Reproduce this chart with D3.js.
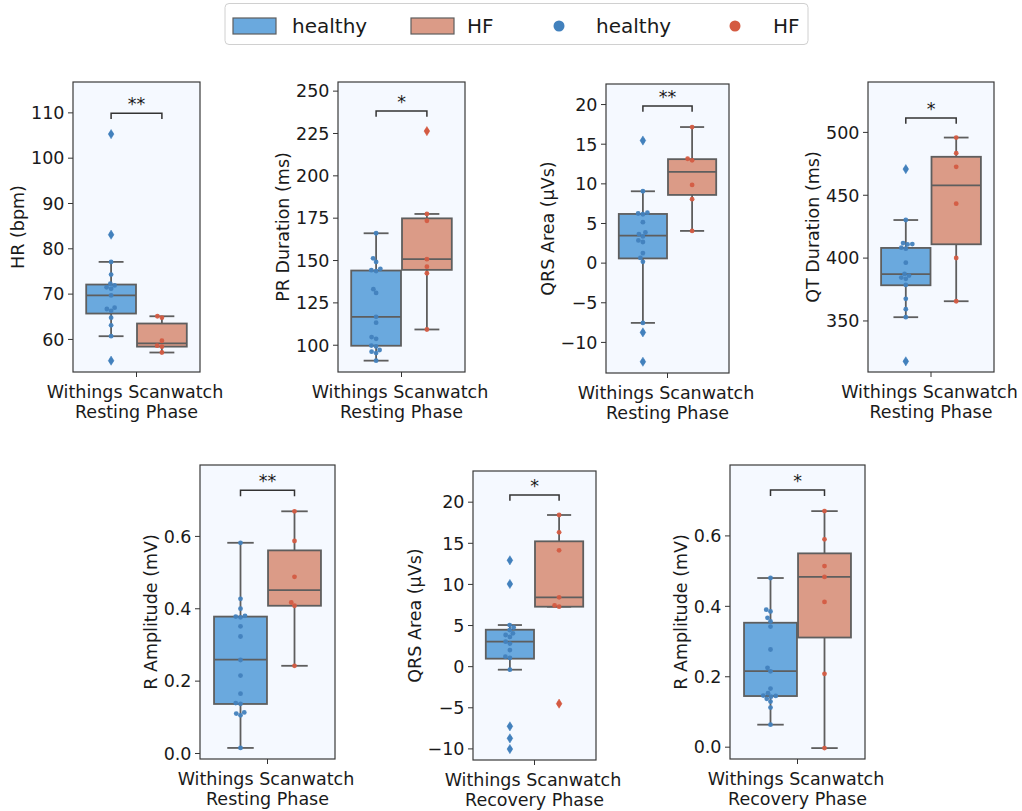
<!DOCTYPE html>
<html>
<head>
<meta charset="utf-8">
<script src="https://cdn.jsdelivr.net/npm/d3@7"></script>
<style>
  body { margin: 0; background: #fff; }
  text { font-family: "DejaVu Sans", sans-serif; fill: #1a1a1a; }
</style>
</head>
<body>
<svg id="fig" width="1022" height="811"></svg>
<script>
// ---------- data ----------
const groups = ["healthy", "HF"];
const deviceLabel = "Withings Scanwatch";

// box stats are [lower whisker, Q1, median, Q3, upper whisker]
const hrHealthy = [105.2, 83.0, 77.0, 74.2, 72.2, 71.8, 71.4, 71.1, 69.6, 66.9, 66.6, 66.2, 64.7, 63.0, 60.6, 55.2];
const hrHF = [65.0, 64.7, 59.6, 58.5, 58.3, 57.0];
const hrBoxHealthy = [60.6, 65.6, 69.6, 72.0, 77.0];
const hrBoxHF = [57.0, 58.3, 59.0, 63.4, 65.0];
const hrTicks = [60, 70, 80, 90, 100, 110];
const hrLimits = [52.7, 116.7];

const prHealthy = [165.8, 151.0, 148.9, 144.8, 144.0, 143.5, 132.8, 130.6, 116.5, 113.0, 104.5, 103.5, 99.5, 99.0, 96.9, 95.9, 95.1, 90.6];
const prHF = [226.1, 177.2, 173.2, 150.5, 146.1, 142.2, 109.0];
const prBoxHealthy = [90.6, 99.4, 116.5, 143.8, 165.8];
const prBoxHF = [109.0, 144.2, 150.5, 174.6, 177.2];
const prTicks = [100, 125, 150, 175, 200, 225, 250];
const prLimits = [83.9, 255.1];

const qrsRestHealthy = [15.4, 9.0, 6.3, 6.2, 6.1, 5.1, 3.8, 3.6, 3.3, 2.8, 2.6, 1.2, 0.6, 0.1, -7.6, -8.8, -12.5];
const qrsRestHF = [17.1, 13.1, 12.9, 9.8, 8.0, 4.0];
const qrsRestBoxHealthy = [-7.6, 0.53, 3.4, 6.14, 9.0];
const qrsRestBoxHF = [4.0, 8.54, 11.45, 13.05, 17.1];
const qrsTicks = [-10, -5, 0, 5, 10, 15, 20];
const qrsRestLimits = [-13.92, 22.53];

const qtHealthy = [470.4, 429.9, 411.6, 410.8, 410.5, 407.9, 407.1, 396.0, 387.0, 385.7, 384.1, 383.1, 378.3, 367.2, 359.0, 352.6, 317.5];
const qtHF = [495.5, 483.1, 472.2, 442.9, 399.7, 365.3];
const qtBoxHealthy = [352.6, 378.0, 386.8, 407.7, 429.9];
const qtBoxHF = [365.3, 410.6, 457.4, 480.2, 495.5];
const qtTicks = [350, 400, 450, 500];
const qtLimits = [309.0, 539.7];

const rRestHealthy = [0.581, 0.426, 0.399, 0.379, 0.377, 0.375, 0.350, 0.322, 0.257, 0.214, 0.164, 0.138, 0.136, 0.112, 0.109, 0.104, 0.014];
const rRestHF = [0.668, 0.586, 0.487, 0.416, 0.407, 0.241];
const rRestBoxHealthy = [0.014, 0.1355, 0.258, 0.377, 0.581];
const rRestBoxHF = [0.241, 0.407, 0.450, 0.560, 0.668];
const rTicks = [0.0, 0.2, 0.4, 0.6];
const rRestLimits = [-0.0166, 0.796];

const qrsRecHealthy = [12.87, 9.99, 5.0, 4.7, 4.39, 3.99, 3.79, 3.55, 2.98, 2.75, 1.95, 1.15, 1.0, -0.43, -7.32, -8.78, -10.08];
const qrsRecHF = [18.38, 16.27, 14.08, 8.37, 7.39, 7.23, -4.56];
const qrsRecBoxHealthy = [-0.43, 0.91, 2.98, 4.43, 5.0];
const qrsRecBoxHF = [7.23, 7.23, 8.37, 15.18, 18.38];
const qrsRecLimits = [-11.41, 23.73];

const rRecHealthy = [0.479, 0.389, 0.384, 0.366, 0.356, 0.341, 0.276, 0.224, 0.214, 0.165, 0.152, 0.145, 0.144, 0.142, 0.136, 0.128, 0.111, 0.0625];
const rRecHF = [0.669, 0.589, 0.513, 0.482, 0.411, 0.207, -0.004];
const rRecBoxHealthy = [0.0625, 0.1438, 0.2148, 0.352, 0.479];
const rRecBoxHF = [-0.004, 0.310, 0.482, 0.549, 0.669];
const rRecLimits = [-0.035, 0.800];

// significance brackets: level (data units) and star text
const bracketLevels = [109.8, 238.0, 19.75, 511.1, 0.726, 20.81, 0.729];
const bracketStars = ["**", "*", "**", "*", "**", "*", "*"];

const panels = [
  { ylabel: "HR (bpm)", phase: "Resting Phase", healthy: hrHealthy, hf: hrHF, boxH: hrBoxHealthy, boxF: hrBoxHF, ticks: hrTicks, limits: hrLimits, fmt: "d" },
  { ylabel: "PR Duration (ms)", phase: "Resting Phase", healthy: prHealthy, hf: prHF, boxH: prBoxHealthy, boxF: prBoxHF, ticks: prTicks, limits: prLimits, fmt: "d" },
  { ylabel: "QRS Area (\u00b5Vs)", phase: "Resting Phase", healthy: qrsRestHealthy, hf: qrsRestHF, boxH: qrsRestBoxHealthy, boxF: qrsRestBoxHF, ticks: qrsTicks, limits: qrsRestLimits, fmt: "d" },
  { ylabel: "QT Duration (ms)", phase: "Resting Phase", healthy: qtHealthy, hf: qtHF, boxH: qtBoxHealthy, boxF: qtBoxHF, ticks: qtTicks, limits: qtLimits, fmt: "d" },
  { ylabel: "R Amplitude (mV)", phase: "Resting Phase", healthy: rRestHealthy, hf: rRestHF, boxH: rRestBoxHealthy, boxF: rRestBoxHF, ticks: rTicks, limits: rRestLimits, fmt: ".1f" },
  { ylabel: "QRS Area (\u00b5Vs)", phase: "Recovery Phase", healthy: qrsRecHealthy, hf: qrsRecHF, boxH: qrsRecBoxHealthy, boxF: qrsRecBoxHF, ticks: qrsTicks, limits: qrsRecLimits, fmt: "d" },
  { ylabel: "R Amplitude (mV)", phase: "Recovery Phase", healthy: rRecHealthy, hf: rRecHF, boxH: rRecBoxHealthy, boxF: rRecBoxHF, ticks: rTicks, limits: rRecLimits, fmt: ".1f" }
];

// ---------- layout & style ----------
const frames = [
  [73, 82, 127, 290], [338, 82, 127, 290], [606, 84, 123, 289], [868, 82, 126, 290],
  [200, 465, 135, 294], [473, 471, 123, 289], [730, 465, 135, 294]
];
const boxFill = { healthy: "#6aa9de", HF: "#db9b87" };
const dotFill = { healthy: "#4281bd", HF: "#d45b42" };
const lineGray = "#5e5e5e";
const axesBg = "#f5f9ff";
const fontSize = 17.5;
const dotR = 2.4;
const swarmGap = 4.6;

const svg = d3.select("#fig");
svg.append("rect").attr("width", 1022).attr("height", 811).attr("fill", "#fff");

// simple deterministic beeswarm: nearest free horizontal slot to the centre line
function swarm(values, cx, y) {
  const pts = values.map(v => ({ v, y: y(v) })).sort((a, b) => a.v - b.v);
  const placed = [];
  pts.forEach(p => {
    let off = 0;
    for (let k = 0; k < 400; k++) {
      const cand = k === 0 ? 0 : (k % 2 === 1 ? -1 : 1) * Math.ceil(k / 2) * 0.25;
      const ok = placed.every(q => Math.hypot(q.x - (cx + cand), q.y - p.y) >= swarmGap);
      if (ok) { off = cand; break; }
    }
    p.x = cx + off;
    placed.push(p);
  });
  return placed;
}

panels.forEach((p, i) => {
  const [fx, fy, fw, fh] = frames[i];
  const g = svg.append("g");
  const x = d3.scaleLinear().domain([-0.5, 0.5]).range([fx, fx + fw]);
  const y = d3.scaleLinear().domain(p.limits).range([fy + fh, fy]);
  const hue = d3.scaleBand().domain(groups).range([-0.4, 0.4]);

  g.append("rect").attr("x", fx).attr("y", fy).attr("width", fw).attr("height", fh).attr("fill", axesBg);

  // y axis
  const fmt = d3.format(p.fmt);
  const yAxis = d3.axisLeft(y).tickValues(p.ticks).tickFormat(fmt).tickSize(5).tickPadding(3.5);
  const ya = g.append("g").attr("transform", `translate(${fx},0)`).call(yAxis);
  ya.select(".domain").remove();
  ya.selectAll(".tick line").attr("stroke", "#333").attr("stroke-width", 1);
  ya.selectAll(".tick text").attr("font-size", fontSize).attr("font-family", "DejaVu Sans").attr("fill", "#1a1a1a").attr("dy", "0.36em");
  let maxW = 0;
  ya.selectAll(".tick text").each(function () { maxW = Math.max(maxW, this.getComputedTextLength()); });
  g.append("text")
    .attr("transform", `translate(${fx - 8.5 - maxW - 7},${fy + fh / 2}) rotate(-90)`)
    .attr("text-anchor", "middle").attr("font-size", fontSize).text(p.ylabel);

  // x axis (single category, hue-dodged)
  const cx = x(0);
  g.append("line").attr("x1", cx).attr("x2", cx).attr("y1", fy + fh).attr("y2", fy + fh + 5).attr("stroke", "#333");
  const xl = g.append("text").attr("text-anchor", "middle").attr("font-size", fontSize);
  xl.append("tspan").attr("x", cx - 1.5).attr("y", fy + fh + 26).text(deviceLabel);
  xl.append("tspan").attr("x", cx).attr("y", fy + fh + 45.5).text(p.phase);

  // boxes
  const series = [
    { key: "healthy", vals: p.healthy, box: p.boxH },
    { key: "HF", vals: p.hf, box: p.boxF }
  ];
  series.forEach(s => {
    const c = hue(s.key) + hue.bandwidth() / 2;
    const half = hue.bandwidth() * 0.98 / 2;
    const [wlo, q1, med, q3, whi] = s.box;
    const xL = x(c - half), xR = x(c + half), xc = x(c);
    const capL = x(c - half / 2), capR = x(c + half / 2);
    const ln = (x1, y1, x2, y2) => g.append("line").attr("x1", x1).attr("y1", y1).attr("x2", x2).attr("y2", y2)
      .attr("stroke", lineGray).attr("stroke-width", 1.8);
    ln(xc, y(q3), xc, y(whi));
    ln(xc, y(q1), xc, y(wlo));
    ln(capL, y(whi), capR, y(whi));
    ln(capL, y(wlo), capR, y(wlo));
    g.append("rect").attr("x", xL).attr("y", y(q3)).attr("width", xR - xL).attr("height", y(q1) - y(q3))
      .attr("fill", boxFill[s.key]).attr("stroke", lineGray).attr("stroke-width", 1.8);
    ln(xL, y(med), xR, y(med));
    // outliers beyond the whiskers
    s.vals.filter(v => v > whi + 1e-9 || v < wlo - 1e-9).forEach(v => {
      const yy = y(v);
      g.append("path").attr("d", `M${xc},${yy - 4.6}L${xc + 2.8},${yy}L${xc},${yy + 4.6}L${xc - 2.8},${yy}Z`)
        .attr("fill", dotFill[s.key]).attr("stroke", dotFill[s.key]).attr("stroke-width", 0.5);
    });
  });

  // swarm dots
  series.forEach(s => {
    const c = x(hue(s.key) + hue.bandwidth() / 2);
    swarm(s.vals, c, y).forEach(pt => {
      g.append("circle").attr("cx", pt.x).attr("cy", pt.y).attr("r", dotR).attr("fill", dotFill[s.key]).attr("opacity", 0.95);
    });
  });

  // frame
  g.append("rect").attr("x", fx).attr("y", fy).attr("width", fw).attr("height", fh)
    .attr("fill", "none").attr("stroke", "#3a3a3a").attr("stroke-width", 1.2);

  // significance bracket
  const bx1 = x(hue("healthy") + hue.bandwidth() / 2), bx2 = x(hue("HF") + hue.bandwidth() / 2);
  const by = y(bracketLevels[i]);
  const drop = fh * 0.02;
  g.append("path").attr("d", `M${bx1},${by + drop}L${bx1},${by}L${bx2},${by}L${bx2},${by + drop}`)
    .attr("fill", "none").attr("stroke", "#333").attr("stroke-width", 1.5);
  g.append("text").attr("x", (bx1 + bx2) / 2).attr("y", by - 3).attr("text-anchor", "middle")
    .attr("font-size", fontSize).text(bracketStars[i]);
});

// ---------- legend ----------
const lg = svg.append("g");
lg.append("rect").attr("x", 225).attr("y", 3.5).attr("width", 583).attr("height", 41).attr("rx", 4)
  .attr("fill", "#fff").attr("stroke", "#d0d0d0").attr("stroke-width", 1);
const legendItems = [
  { type: "box", key: "healthy", label: "healthy", x: 233, tx: 292 },
  { type: "box", key: "HF", label: "HF", x: 411, tx: 467 },
  { type: "dot", key: "healthy", label: "healthy", x: 559, tx: 596 },
  { type: "dot", key: "HF", label: "HF", x: 735, tx: 773 }
];
legendItems.forEach(it => {
  if (it.type === "box") {
    lg.append("rect").attr("x", it.x).attr("y", 18).attr("width", 43).attr("height", 16)
      .attr("fill", boxFill[it.key]).attr("stroke", lineGray).attr("stroke-width", 1.2);
  } else {
    lg.append("circle").attr("cx", it.x).attr("cy", 26).attr("r", 5.5).attr("fill", dotFill[it.key]);
  }
  lg.append("text").attr("x", it.tx).attr("y", 33).attr("font-size", 20).text(it.label);
});
</script>
</body>
</html>
